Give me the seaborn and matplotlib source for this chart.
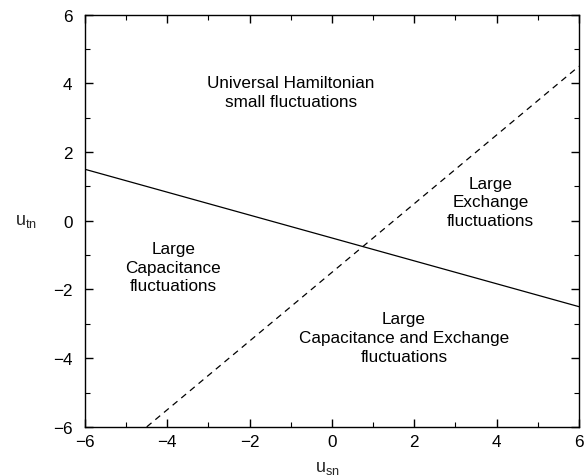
import matplotlib
matplotlib.use("Agg")
import matplotlib.pyplot as plt
from matplotlib.ticker import MultipleLocator
import pandas as pd
import seaborn as sns

# phase boundaries
solid_x  = [-6.0, 6.0]
solid_y  = [1.5, -2.5]
dashed_x = [-4.5, 6.0]
dashed_y = [-6.0, 4.5]

# region labels
region_text = [
    "Universal Hamiltonian\nsmall fluctuations",
    "Large\nExchange\nfluctuations",
    "Large\nCapacitance\nfluctuations",
    "Large\nCapacitance and Exchange\nfluctuations",
]
region_x = [-1.0, 3.85, -3.85, 1.75]
region_y = [3.75, 0.55, -1.35, -3.4]

x_ticks = [-6, -4, -2, 0, 2, 4, 6]
y_ticks = [-6, -4, -2, 0, 2, 4, 6]

sns.set_theme(style="white")
plt.rcParams["font.family"] = ["Liberation Sans", "DejaVu Sans"]
plt.rcParams["mathtext.fontset"] = "custom"
plt.rcParams["mathtext.rm"] = "Liberation Sans"

df = pd.DataFrame({
    "x": solid_x + dashed_x,
    "y": solid_y + dashed_y,
    "boundary": ["solid"] * len(solid_x) + ["dashed"] * len(dashed_x),
})

fig = plt.figure(figsize=(5.86, 4.77), dpi=100)
ax = fig.add_axes([0.145, 0.103, 0.843, 0.864])

sns.lineplot(data=df, x="x", y="y", style="boundary", color="black",
             dashes={"solid": "", "dashed": (5, 4)}, linewidth=0.9,
             legend=False, sort=False, estimator=None, ax=ax)

for txt, tx, ty in zip(region_text, region_x, region_y):
    ax.text(tx, ty, txt, ha="center", va="center", fontsize=12.3,
            linespacing=1.3, color="black")

ax.set_xlim(-6, 6)
ax.set_ylim(-6, 6)
ax.set_xticks(x_ticks)
ax.set_yticks(y_ticks)
ax.set_xticklabels([str(t).replace("-", "\u2212") for t in x_ticks])
ax.set_yticklabels([str(t).replace("-", "\u2212") for t in y_ticks])
ax.xaxis.set_minor_locator(MultipleLocator(1))
ax.yaxis.set_minor_locator(MultipleLocator(1))
ax.tick_params(which="both", direction="in", top=True, right=True,
               bottom=True, left=True, colors="black", labelsize=12.3)
ax.tick_params(which="major", length=6, width=1)
ax.tick_params(which="minor", length=3.5, width=0.8)
ax.tick_params(axis="y", which="major", pad=9)
ax.tick_params(axis="x", which="major", pad=5)
for s in ax.spines.values():
    s.set_color("black")
    s.set_linewidth(1)

ax.set_xlabel(r"$\mathrm{u_{sn}}$", fontsize=13)
ax.set_ylabel(r"$\mathrm{u_{tn}}$", fontsize=13, rotation=0, va="center")
ax.xaxis.set_label_coords(0.49, -0.078)
ax.yaxis.set_label_coords(-0.12, 0.5)

fig.savefig("out.png", dpi=100, facecolor="white")
